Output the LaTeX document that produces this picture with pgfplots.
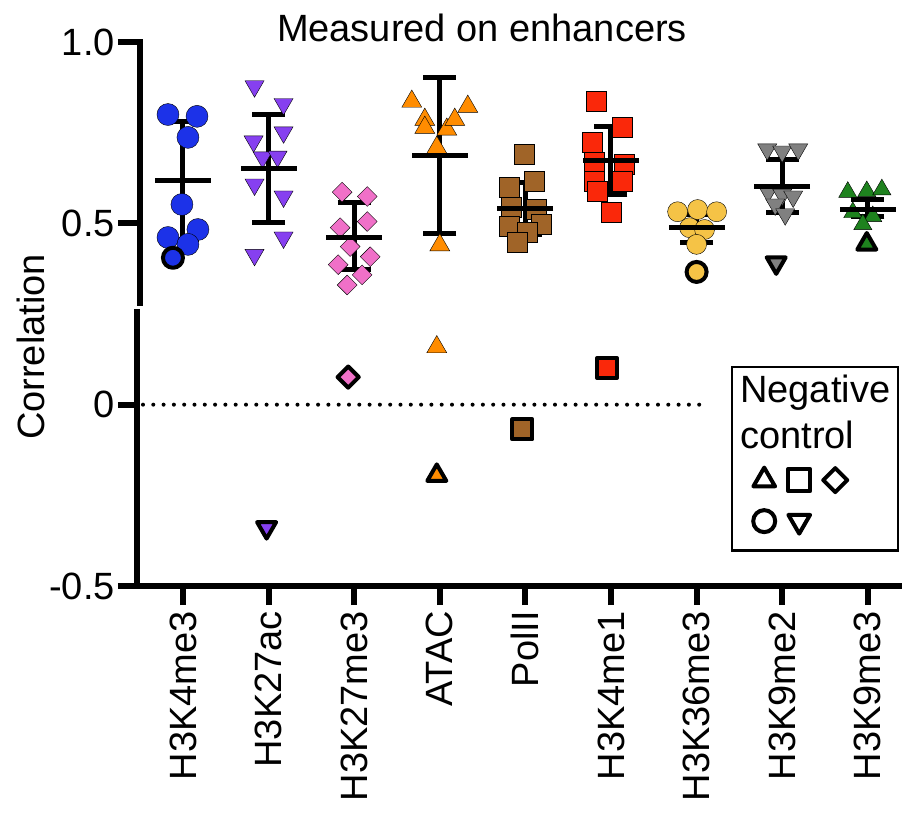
\documentclass[border=0pt]{standalone}
\usepackage{pgfplots}
\pgfplotsset{compat=1.18}
\usepackage{fontspec}
\setmainfont{Liberation Sans}
\newcommand{\bigf}{\fontsize{38}{46}\selectfont}
\definecolor{cBlue}{RGB}{28,50,232}
\definecolor{cPurple}{RGB}{134,64,240}
\definecolor{cPink}{RGB}{240,112,200}
\definecolor{cOrange}{RGB}{255,140,0}
\definecolor{cBrown}{RGB}{160,100,40}
\definecolor{cRed}{RGB}{250,40,10}
\definecolor{cGold}{RGB}{245,195,70}
\definecolor{cGray}{RGB}{128,128,128}
\definecolor{cGreen}{RGB}{30,130,30}
\pgfplotsset{
 pts/.style n args={4}{forget plot, only marks, mark=#1, mark size=#2, mark options={draw=none, fill=#3, #4}},
 ctl/.style n args={4}{forget plot, only marks, mark=#1, mark size=#2, mark options={draw=black, line width=4pt, line join=round, fill=#3, #4}},
}
\begin{document}
\begin{tikzpicture}
\begin{axis}[
 name=ax, scale only axis, width=763pt, height=544pt,
 xmin=-0.537, xmax=8.376, ymin=-0.5, ymax=1.0,
 clip=false,
 axis x line*=bottom, axis y line*=left,
 y axis line style={draw=none},
 x axis line style={line width=6pt, line cap=rect},
 xtick={0,1,2,3,4,5,6,7,8},
 xticklabels={H3K4me3,H3K27ac,H3K27me3,ATAC,PolII,H3K4me1,H3K36me3,H3K9me2,H3K9me3},
 ytick={-0.5,0,0.5,1.0},
 yticklabels={-0.5,0,0.5,1.0},
 tick align=outside, major tick length=19pt,
 tick style={black, line width=6pt},
 xticklabel style={rotate=90, anchor=east, font=\bigf, inner sep=6pt},
 yticklabel style={font=\bigf, anchor=east, inner sep=3pt},
 legend columns=3,
 legend image code/.code={\draw[#1] plot coordinates {(0pt,0pt)};},
 legend style={draw=none, fill=none, at={(axis cs:6.659,-0.173)}, anchor=north west,
   inner sep=0pt, row sep=18pt, nodes={inner sep=0pt},
   /tikz/every even column/.append style={column sep=12pt}},
]
% zero line
\addplot[forget plot, black, line width=4pt, line cap=round, dash pattern=on 0pt off 10.3pt]
 coordinates {(-0.467,0) (6.12,0)};

% H3K4me3
\addplot[pts={*}{11pt}{cBlue}{}] coordinates {
 (-0.175,0.800) (0.164,0.795) (0.058,0.737) (-0.012,0.552) (-0.175,0.461) (0.175,0.483) (0.058,0.442)};
\addplot[ctl={*}{10pt}{cBlue}{}] coordinates {(-0.117,0.405)};

% H3K27ac
\addplot[pts={triangle*}{11pt}{cPurple}{rotate=180}] coordinates {
 (0.836,0.878) (1.175,0.829) (1.175,0.751) (0.825,0.726) (0.93,0.682) (1.105,0.684)
 (0.836,0.607) (1.175,0.574) (1.175,0.461) (0.836,0.413)};
\addplot[ctl={triangle*}{11pt}{cPurple}{rotate=180}] coordinates {(0.977,-0.339)};

% H3K27me3
\addplot[pts={square*}{7pt}{cPink}{rotate=45}] coordinates {
 (1.86,0.586) (2.152,0.574) (1.836,0.488) (2.152,0.505) (1.953,0.436) (2.187,0.408)
 (1.813,0.386) (2.093,0.358) (1.918,0.330)};
\addplot[ctl={square*}{7.5pt}{cPink}{rotate=45}] coordinates {(1.93,0.076)};

% ATAC
\addplot[pts={triangle*}{11.5pt}{cOrange}{}] coordinates {
 (2.673,0.836) (2.825,0.786) (2.825,0.764) (3.082,0.759) (3.175,0.786) (3.327,0.822)
 (2.965,0.709) (3.0,0.440) (2.965,0.159)};
\addplot[ctl={triangle*}{11pt}{cOrange}{}] coordinates {(2.965,-0.195)};

% PolII
\addplot[pts={square*}{10pt}{cBrown}{}] coordinates {
 (3.988,0.690) (4.105,0.616) (3.813,0.600) (3.836,0.544) (4.128,0.538) (3.813,0.491)
 (4.187,0.497) (4.023,0.475) (3.907,0.447)};
\addplot[ctl={square*}{10pt}{cBrown}{}] coordinates {(3.965,-0.068)};

% H3K4me1
\addplot[pts={square*}{10pt}{cRed}{}] coordinates {
 (4.825,0.836) (5.128,0.764) (4.778,0.723) (5.152,0.663) (4.801,0.668) (4.801,0.616)
 (5.128,0.616) (4.836,0.588) (5.0,0.530)};
\addplot[ctl={square*}{10pt}{cRed}{}] coordinates {(4.953,0.101)};

% H3K36me3
\addplot[pts={*}{10pt}{cGold}{}] coordinates {
 (5.778,0.532) (6.012,0.538) (6.234,0.532) (5.918,0.488) (6.093,0.483) (6.0,0.442)};
\addplot[ctl={*}{10pt}{cGold}{}] coordinates {(6.0,0.366)};

% H3K9me2
\addplot[pts={triangle*}{11pt}{cGray}{rotate=180}] coordinates {
 (6.825,0.704) (7.0,0.698) (7.187,0.704) (6.836,0.587) (7.0,0.579) (7.128,0.574)
 (6.918,0.552) (7.035,0.525)};
\addplot[ctl={triangle*}{11pt}{cGray}{rotate=180}] coordinates {(6.93,0.391)};

% H3K9me3
\addplot[pts={triangle*}{10.5pt}{cGreen}{}] coordinates {
 (7.766,0.586) (7.988,0.588) (8.164,0.593) (7.825,0.530) (8.058,0.519) (7.942,0.497)};
\addplot[ctl={triangle*}{11pt}{cGreen}{}] coordinates {(7.988,0.443)};

% mean +- SD
\addplot[forget plot, black, only marks, mark=-, mark size=28pt, mark options={line width=5pt},
  error bars/.cd, y dir=both, y explicit,
  error bar style={line width=5pt, black},
  error mark=|,
  error mark options={black, line width=5pt, mark size=16.5pt}]
 coordinates {
 (0,0.618) += (0,0.163) -= (0,0.163)
 (1,0.651) += (0,0.149) -= (0,0.149)
 (2,0.460) += (0,0.097) -= (0,0.088)
 (3,0.687) += (0,0.216) -= (0,0.216)
 (4,0.541) += (0,0.072) -= (0,0.072)
 (5,0.673) += (0,0.094) -= (0,0.094)
 (6,0.488) += (0,0.036) -= (0,0.041)
 (7,0.601) += (0,0.075) -= (0,0.072)
 (8,0.538) += (0,0.028) -= (0,0.019)
 };

% broken y axis
\draw[line width=6pt] ([xshift=3pt]axis cs:-0.537,1.008) -- ([xshift=3pt]axis cs:-0.537,0.272);
\draw[line width=6pt] (axis cs:-0.537,0.264) -- (axis cs:-0.537,-0.508);

% texts
\node[anchor=base, font=\bigf] at (axis cs:3.493,1.002) {Measured on enhancers};
\node[rotate=90, anchor=base, font=\bigf] at (axis cs:-1.612,0.159) {Correlation};

% negative control key
\draw[line width=2.5pt] (axis cs:6.414,0.1037) rectangle (axis cs:8.353,-0.402);
\node[anchor=base west, font=\bigf, inner sep=0pt] at (axis cs:6.507,0.007) {Negative};
\node[anchor=base west, font=\bigf, inner sep=0pt] at (axis cs:6.507,-0.121) {control};
\addlegendimage{black, mark=triangle, mark size=12.5pt, line width=4pt, mark options={solid, line join=round}}
\addlegendentry{\mbox{}}
\addlegendimage{black, mark=square, mark size=11pt, line width=4pt, mark options={solid, line join=round}}
\addlegendentry{\mbox{}}
\addlegendimage{black, mark=square, mark size=8.5pt, line width=4pt, mark options={solid, rotate=45, line join=round}}
\addlegendentry{\mbox{}}
\addlegendimage{black, mark=o, mark size=11pt, line width=4pt, mark options={solid}}
\addlegendentry{\mbox{}}
\addlegendimage{black, mark=triangle, mark size=12.5pt, line width=4pt, mark options={solid, rotate=180, line join=round}}
\addlegendentry{\mbox{}}
\end{axis}
\pgfresetboundingbox
\path ([shift={(-137pt,-242pt)}]ax.south west) rectangle ([shift={(2pt,42pt)}]ax.north east);
\end{tikzpicture}
\end{document}
